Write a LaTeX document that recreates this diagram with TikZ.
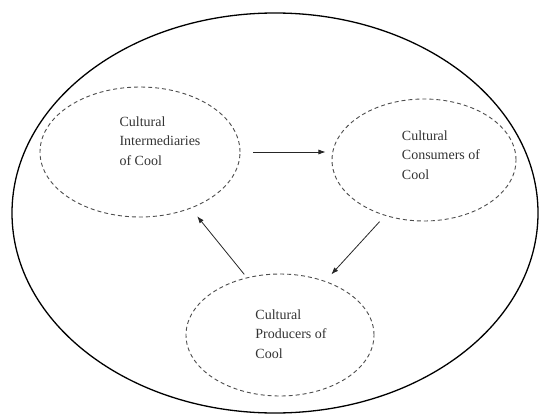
\documentclass[tikz,border=0pt]{standalone}
\usepackage{fontspec}
\setmainfont{Liberation Serif}
\usetikzlibrary{shapes,arrows.meta,positioning}

\begin{document}
\begin{tikzpicture}[
      x=1pt, y=-1pt,
      every node/.style={font=\fontsize{14}{19.5}\selectfont, text=black!80},
      world/.style={ellipse, draw, line width=1.3pt, minimum width=526pt, minimum height=400pt, inner sep=0pt},
      actor/.style={ellipse, draw=black!70, dashed, dash pattern=on 4pt off 3pt, line width=0.9pt, minimum width=#1, inner sep=0pt},
      label/.style={align=left, inner sep=0pt},
      line/.style={draw, black!85, line width=0.8pt, -{Latex[length=2.5mm, width=1.8mm]}}
    ]
    \useasboundingbox (0,0) rectangle (541,415);
    % Nodes
    \node [world] (world) at (275,213) {};
    \node [actor=200pt, minimum height=130pt] (inter) at (140,152) {};
    \node [actor=184pt, minimum height=122pt] (cons) at (424,160) {};
    \node [actor=188pt, minimum height=122pt] (prod) at (280,335) {};
    \node [label] (interText) at ([shift={(20,-11)}]inter.center) {Cultural\\Intermediaries\\of Cool};
    \node [label] (consText) at ([shift={(17,-5)}]cons.center) {Cultural\\Consumers of\\Cool};
    \node [label] (prodText) at ([shift={(11,-1)}]prod.center) {Cultural\\Producers of\\Cool};
    % Lines
    \path [line, shorten <=13pt, shorten >=6pt] (inter.east) -- (inter.east -| cons.west);
    \path [line, shorten <=8pt, shorten >=9pt] (cons.-125) -- (prod.50);
    \path [line, shorten <=4pt, shorten >=10pt] (prod.120) -- (inter.-48);
  \end{tikzpicture}
\end{document}
